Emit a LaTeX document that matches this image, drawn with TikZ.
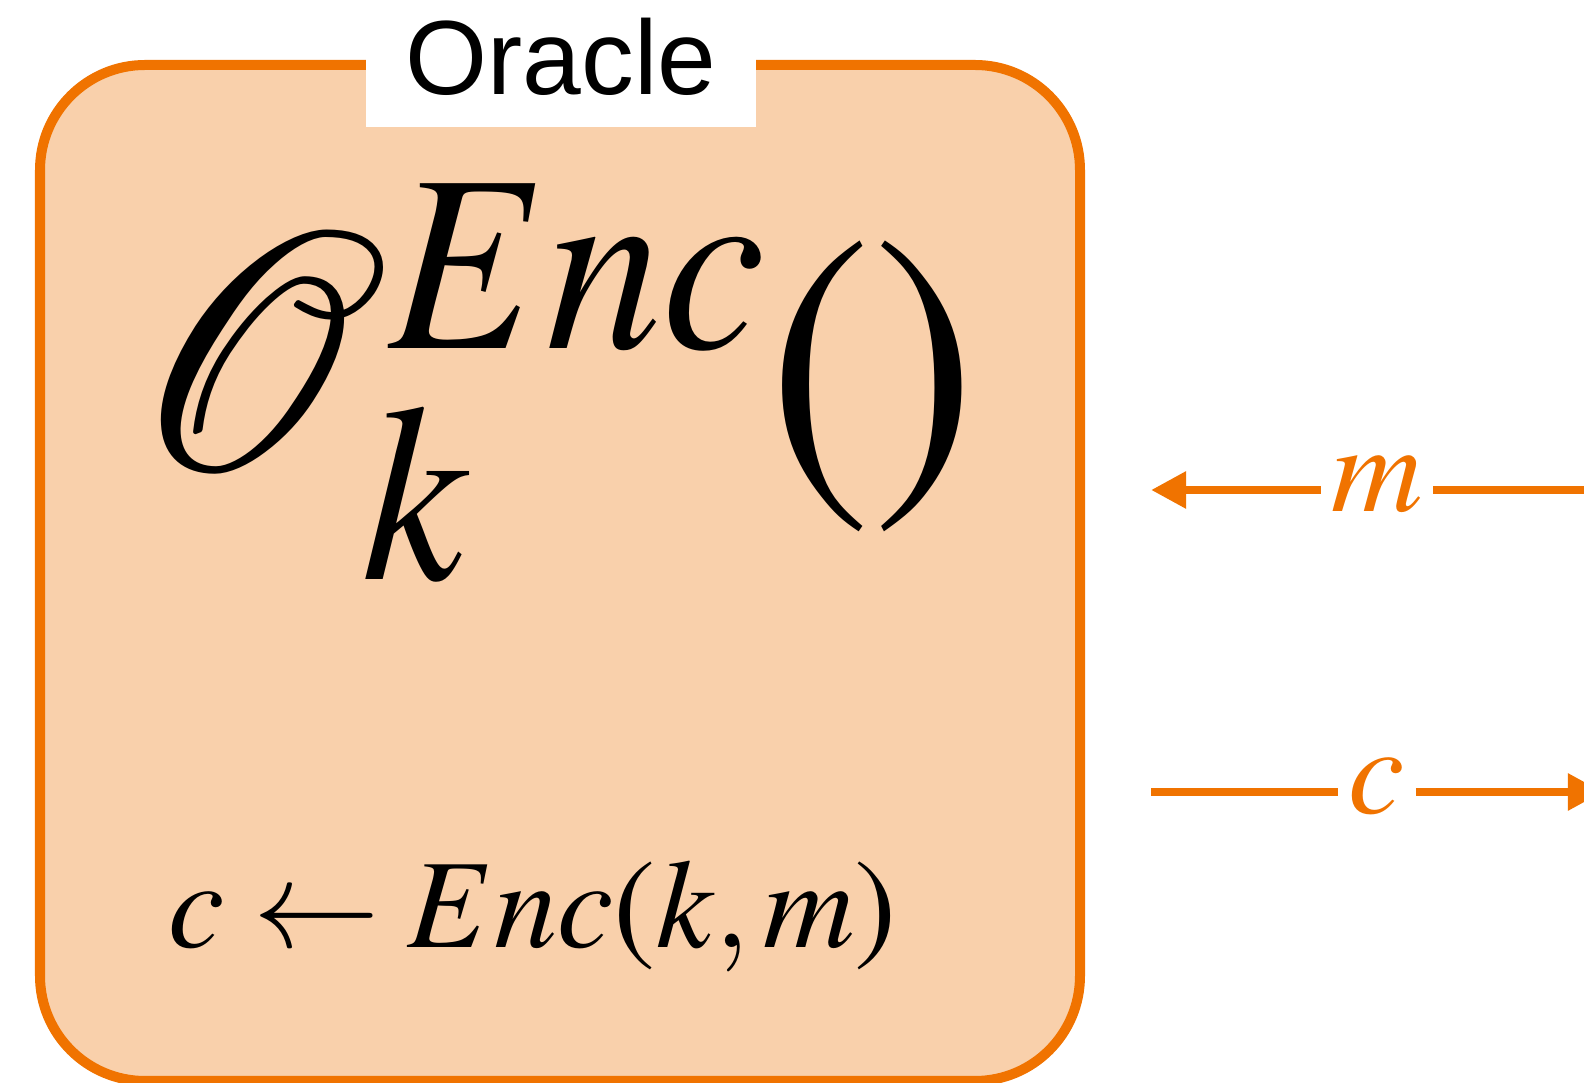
\documentclass[tikz,border=0pt]{standalone}
\usepackage{mathptmx}
\usepackage[no-math]{fontspec}
\newfontfamily\labelfont{Liberation Sans}
\usetikzlibrary{arrows.meta}

% plain Times parentheses
\DeclareSymbolFont{tmtext}{OT1}{ptm}{m}{n}
\DeclareMathSymbol{(}{\mathopen}{tmtext}{"28}
\DeclareMathSymbol{)}{\mathclose}{tmtext}{"29}

\definecolor{oracleorange}{HTML}{F07300}
\definecolor{oraclefill}{HTML}{F9D0AB}

\begin{document}
\begin{tikzpicture}[x=0.01cm, y=-0.01cm,
  oraclebox/.style={draw=oracleorange, fill=oraclefill, line width=0.1cm, rounded corners=1.05cm},
  titlebox/.style={fill=white, inner sep=0pt, minimum width=3.9cm, minimum height=1.4cm, font=\labelfont\fontsize{30}{36}\selectfont},
  wire/.style={draw=oracleorange, line width=0.085cm},
  headed/.style={-{Triangle[length=0.35cm, width=0.35cm]}},
  msg/.style={text=oracleorange, inner xsep=0.1cm, inner ysep=0pt, text height=0.42cm, text depth=0pt, font=\fontsize{36}{43}\selectfont}
]
\useasboundingbox (0,0) rectangle (1584,1083);

% the oracle
\draw[oraclebox] (40,65) rectangle (1080,1081);
\node[titlebox] (oracle) at (561,57) {Oracle};

% what it computes
\node[anchor=base west, inner sep=0pt, xscale=0.92, transform shape, font=\fontsize{97}{116}\selectfont] (call) at (131,472) {$\mathcal{O}^{Enc}_{k}()$};
\node[anchor=base west, inner sep=0pt, font=\fontsize{36}{43}\selectfont] (enc) at (168,948) {$c \leftarrow Enc(k,m)$};

% message in
\coordinate (min) at (1603,490);
\coordinate (mout) at (1151,490);
\node[msg] (mlab) at (1377,490) {$m$};
\draw[wire] (min) -- (mlab);
\draw[wire, headed] (mlab) -- (mout);

% ciphertext out
\coordinate (cin) at (1151,792);
\coordinate (cout) at (1603,792);
\node[msg] (clab) at (1377,792) {$c$};
\draw[wire] (cin) -- (clab);
\draw[wire, headed] (clab) -- (cout);
\end{tikzpicture}
\end{document}
